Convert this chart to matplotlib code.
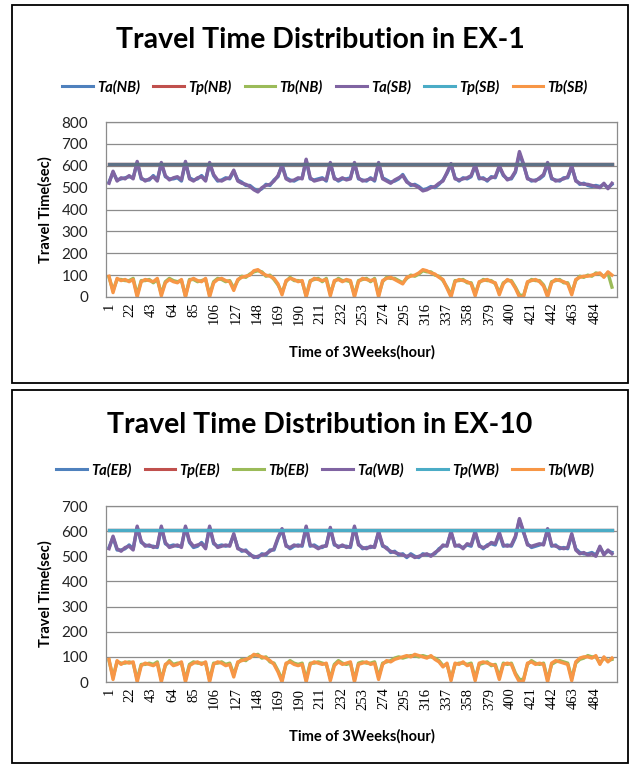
import numpy as np
import matplotlib
matplotlib.use('Agg')
import matplotlib.pyplot as plt
from matplotlib.patches import Rectangle

# hourly samples every 4 hours over 3 weeks
hours = np.arange(1, 505, 4)
tick_labels = list(range(1, 505, 21))

# EX-1 data
ex1_ta_nb = [525, 570, 535, 540, 545, 550, 545, 615, 540, 535, 535, 555,
             535, 610, 550, 540, 540, 545, 530, 615, 545, 535, 540, 555,
             535, 610, 555, 530, 535, 545, 540, 575, 535, 525, 510, 510,
             495, 485, 495, 515, 510, 535, 550, 605, 545, 535, 530, 540,
             545, 625, 540, 535, 540, 545, 530, 610, 545, 530, 540, 540,
             545, 610, 540, 535, 530, 545, 530, 610, 545, 535, 525, 530,
             540, 560, 530, 510, 515, 505, 490, 495, 505, 500, 515, 535,
             565, 605, 545, 530, 545, 540, 550, 600, 540, 545, 530, 550,
             545, 595, 555, 540, 540, 570, 655, 605, 545, 530, 535, 540,
             555, 610, 540, 535, 530, 545, 545, 595, 535, 515, 520, 510,
             505, 510, 505, 515, 500, 515]
ex1_tp_nb = 610
ex1_tb_nb = [90, 30, 80, 80, 75, 75, 85, 10, 75, 75, 80, 65,
             80, 15, 70, 85, 75, 70, 75, 5, 80, 80, 70, 75,
             80, 10, 70, 85, 80, 70, 75, 40, 75, 95, 90, 105,
             115, 120, 115, 95, 100, 80, 55, 20, 70, 90, 75, 75,
             70, 5, 75, 80, 85, 70, 85, 15, 70, 85, 75, 75,
             70, 10, 75, 80, 85, 70, 85, 10, 70, 90, 85, 85,
             75, 65, 85, 100, 95, 105, 120, 115, 115, 100, 95, 75,
             45, 10, 75, 75, 80, 65, 65, 15, 65, 80, 75, 75,
             60, 20, 65, 75, 75, 45, 10, 5, 65, 80, 75, 75,
             55, 10, 70, 75, 80, 65, 65, 20, 75, 95, 90, 100,
             95, 110, 105, 95, 110, 45]
ex1_ta_sb = [520, 575, 530, 545, 540, 555, 540, 620, 545, 530, 540, 550,
             530, 615, 555, 535, 545, 550, 535, 620, 540, 530, 545, 550,
             530, 615, 560, 535, 530, 540, 545, 580, 530, 520, 515, 505,
             490, 480, 500, 510, 515, 530, 555, 600, 540, 530, 535, 545,
             540, 630, 545, 530, 535, 540, 535, 615, 540, 535, 545, 535,
             540, 615, 545, 530, 535, 540, 535, 615, 540, 530, 520, 535,
             545, 555, 525, 515, 510, 500, 485, 490, 500, 505, 520, 530,
             570, 610, 540, 535, 540, 545, 555, 605, 545, 540, 535, 545,
             550, 600, 560, 535, 545, 575, 665, 610, 540, 535, 530, 545,
             560, 615, 545, 530, 535, 540, 550, 600, 530, 520, 515, 515,
             510, 505, 500, 520, 495, 520]
ex1_tp_sb = 610
ex1_tb_sb = [95, 20, 85, 75, 80, 70, 80, 0, 70, 80, 75, 70,
             85, 5, 65, 80, 70, 65, 80, 0, 75, 85, 75, 70,
             85, 0, 65, 80, 85, 75, 70, 30, 80, 90, 95, 100,
             120, 125, 110, 100, 95, 85, 60, 10, 75, 85, 80, 70,
             75, 0, 70, 85, 80, 75, 80, 5, 75, 80, 70, 80,
             75, 0, 70, 85, 80, 75, 80, 0, 75, 85, 90, 80,
             70, 60, 90, 95, 100, 110, 125, 120, 110, 105, 90, 80,
             40, 0, 70, 80, 75, 70, 60, 5, 70, 75, 80, 70,
             65, 10, 60, 80, 70, 40, 0, 0, 70, 75, 80, 70,
             50, 0, 65, 80, 75, 70, 60, 10, 80, 90, 95, 95,
             100, 105, 110, 90, 115, 100]

# EX-10 data
ex10_ta_eb = [535, 575, 525, 525, 530, 545, 530, 615, 555, 545, 540, 540,
              535, 615, 550, 540, 545, 540, 540, 615, 555, 535, 540, 555,
              535, 615, 550, 540, 545, 540, 545, 585, 535, 520, 525, 505,
              500, 495, 510, 505, 525, 525, 570, 605, 545, 530, 540, 545,
              540, 615, 540, 545, 535, 535, 545, 610, 545, 540, 540, 540,
              535, 615, 550, 530, 535, 535, 540, 595, 540, 535, 515, 520,
              505, 510, 495, 510, 500, 495, 510, 505, 505, 510, 530, 540,
              545, 595, 545, 540, 535, 545, 540, 595, 545, 530, 545, 550,
              545, 590, 540, 545, 540, 575, 645, 595, 550, 535, 540, 545,
              550, 605, 540, 545, 530, 535, 530, 585, 530, 515, 510, 510,
              515, 505, 535, 510, 520, 515]
ex10_tp_eb = 605
ex10_tb_eb = [85, 20, 80, 75, 75, 80, 75, 10, 70, 70, 75, 70,
              80, 10, 65, 85, 70, 75, 75, 10, 70, 80, 75, 75,
              75, 10, 75, 75, 80, 70, 75, 30, 75, 90, 85, 100,
              105, 110, 95, 100, 80, 75, 45, 10, 70, 85, 75, 70,
              75, 10, 75, 75, 80, 75, 70, 15, 70, 85, 75, 70,
              75, 10, 75, 80, 75, 75, 80, 20, 75, 80, 85, 95,
              100, 95, 100, 105, 105, 100, 105, 100, 100, 95, 85, 65,
              70, 15, 70, 75, 75, 70, 75, 15, 70, 75, 80, 65,
              70, 20, 75, 70, 75, 35, 10, 10, 70, 85, 75, 70,
              75, 10, 70, 80, 85, 80, 75, 15, 75, 90, 95, 105,
              100, 100, 75, 95, 85, 90]
ex10_ta_wb = [530, 580, 530, 520, 535, 540, 525, 620, 560, 540, 545, 535,
              540, 620, 555, 535, 540, 545, 535, 620, 560, 540, 545, 550,
              530, 620, 555, 535, 540, 545, 540, 590, 530, 525, 520, 510,
              495, 500, 505, 510, 520, 530, 575, 610, 540, 535, 545, 540,
              545, 620, 545, 540, 530, 540, 540, 615, 550, 535, 545, 535,
              540, 620, 545, 535, 530, 540, 535, 600, 545, 530, 520, 515,
              510, 505, 500, 505, 495, 500, 505, 510, 500, 515, 525, 545,
              540, 600, 540, 545, 530, 550, 545, 600, 540, 535, 540, 555,
              550, 595, 545, 540, 545, 580, 650, 600, 545, 540, 545, 550,
              545, 610, 545, 540, 535, 530, 535, 590, 525, 510, 515, 505,
              510, 500, 540, 505, 525, 510]
ex10_tp_wb = 605
ex10_tb_wb = [90, 10, 85, 70, 80, 75, 80, 0, 65, 75, 70, 65,
              75, 0, 70, 80, 65, 70, 80, 0, 65, 75, 80, 70,
              80, 0, 70, 80, 75, 65, 70, 20, 80, 85, 90, 95,
              110, 105, 100, 95, 85, 70, 40, 0, 75, 80, 70, 65,
              70, 0, 70, 80, 75, 70, 75, 5, 65, 80, 70, 75,
              80, 0, 70, 75, 80, 70, 75, 10, 70, 85, 80, 90,
              95, 100, 105, 100, 110, 105, 100, 95, 105, 90, 80, 60,
              75, 5, 75, 70, 80, 65, 70, 5, 75, 80, 75, 70,
              65, 10, 70, 75, 70, 30, 0, 5, 75, 80, 70, 75,
              70, 0, 75, 85, 80, 75, 70, 5, 80, 95, 100, 100,
              95, 105, 70, 100, 80, 95]

colors = ['#4F81BD', '#C0504D', '#9BBB59', '#8064A2', '#4BACC6', '#F79646']

W, H = 637, 764


def px_box(left, top, right, bottom):
    # convert pixel box to figure fraction
    return [left / W, 1 - bottom / H, (right - left) / W, (bottom - top) / H]


def draw_panel(fig, box, ax_box, title, title_y, legend_y, xlabel_y, ymax,
               names, ta_a, tp_a, tb_a, ta_b, tp_b, tb_b):
    # outer black frame
    l, t, r, b = box
    fig.patches.append(Rectangle((l / W, 1 - b / H), (r - l) / W, (b - t) / H,
                                 transform=fig.transFigure, fill=False,
                                 edgecolor='black', linewidth=1.3))
    ax = fig.add_axes(px_box(*ax_box))
    n = len(hours)
    series = [ta_a, [tp_a] * n, tb_a, ta_b, [tp_b] * n, tb_b]
    lines = []
    for i, (vals, name) in enumerate(zip(series, names)):
        color = colors[i]
        if i == 4 and tp_a == 610:
            # EX-1 Tp lines overlap and read as a dark slate line
            color = '#5E7186'
        ln, = ax.plot(hours, vals, color=color, lw=2.4, label=name,
                      solid_joinstyle='round')
        lines.append(ln)

    ax.set_xlim(-2, 506)
    ax.set_ylim(0, ymax)
    ax.set_yticks(range(0, ymax + 1, 100))
    ax.set_xticks(tick_labels)
    ax.set_xticklabels([str(v) for v in tick_labels], rotation=90,
                       family='Liberation Serif', fontsize=10.5)
    for lab in ax.get_yticklabels():
        lab.set_family('Lato')
        lab.set_fontsize(11)
        lab.set_color('#222222')
    ax.tick_params(axis='y', length=0, pad=13)
    ax.tick_params(axis='x', length=0, pad=4)
    ax.grid(axis='y', color='#8c8c8c', lw=0.9)
    ax.set_axisbelow(True)
    for sp in ax.spines.values():
        sp.set_color('#8c8c8c')
        sp.set_linewidth(0.9)

    cx = (box[0] + box[2]) / 2
    fig.text(cx / W, 1 - title_y / H, title, ha='center', va='center',
             family='Lato', fontweight='bold', fontsize=20.5)
    leg = fig.legend(handles=lines, loc='center', ncol=6, frameon=False,
                     bbox_to_anchor=(325 / W, 1 - legend_y / H),
                     handlelength=2.1, handletextpad=0.3, columnspacing=0.9,
                     prop={'family': 'Lato', 'weight': 'bold',
                           'style': 'italic', 'size': 10.5})
    for h, c in zip(leg.legend_handles, colors):
        h.set_color(c)
        h.set_linewidth(2.2)
    fig.text(45 / W, 1 - (ax_box[1] + ax_box[3]) / 2 / H, 'Travel Time(sec)',
             rotation=90, ha='center', va='center', family='Lato',
             fontweight='bold', fontsize=10.5)
    fig.text((ax_box[0] + ax_box[2]) / 2 / W, 1 - xlabel_y / H,
             'Time of 3Weeks(hour)', ha='center', va='center', family='Lato',
             fontweight='bold', fontsize=10.5)
    return ax


fig = plt.figure(figsize=(W / 100, H / 100), dpi=100)

draw_panel(fig, (12, 5, 628, 383), (106, 122, 617, 297),
           'Travel Time Distribution in EX-1', 40, 87, 352, 800,
           ['Ta(NB)', 'Tp(NB)', 'Tb(NB)', 'Ta(SB)', 'Tp(SB)', 'Tb(SB)'],
           ex1_ta_nb, ex1_tp_nb, ex1_tb_nb, ex1_ta_sb, ex1_tp_sb, ex1_tb_sb)

draw_panel(fig, (12, 390, 628, 763), (106, 506, 617, 682),
           'Travel Time Distribution in EX-10', 425, 470, 736, 700,
           ['Ta(EB)', 'Tp(EB)', 'Tb(EB)', 'Ta(WB)', 'Tp(WB)', 'Tb(WB)'],
           ex10_ta_eb, ex10_tp_eb, ex10_tb_eb, ex10_ta_wb, ex10_tp_wb,
           ex10_tb_wb)

fig.savefig('out.png', dpi=100)
plt.close(fig)
